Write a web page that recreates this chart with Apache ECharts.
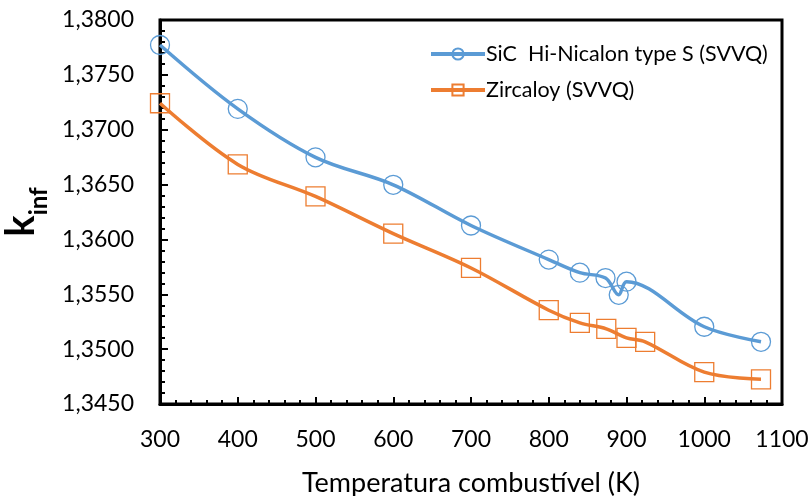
<!DOCTYPE html>
<html>
<head>
<meta charset="utf-8">
<script src="https://cdn.jsdelivr.net/npm/echarts@6/dist/echarts.min.js"></script>
<style>html,body{margin:0;padding:0;background:#fff}#c{width:812px;height:496px}</style>
</head>
<body>
<div id="c"></div>
<script>
const sicTemps = [300, 400, 500, 600, 700, 800, 840, 873, 890, 900, 1000, 1073];
const sicK = [1.37772, 1.37190, 1.36748, 1.36498, 1.36127, 1.35816, 1.35697, 1.35648, 1.35495, 1.35615, 1.35204, 1.35067];
const zrTemps = [300, 400, 500, 600, 700, 800, 840, 874, 900, 924, 1000, 1073];
const zrK = [1.37241, 1.36684, 1.36392, 1.36053, 1.35740, 1.35355, 1.35240, 1.35185, 1.35103, 1.35067, 1.34790, 1.34725];
const seriesNames = ['SiC  Hi-Nicalon type S (SVVQ)', 'Zircaloy (SVVQ)'];
const xTitle = 'Temperatura combustível (K)';

const blue = '#5B9BD5', orange = '#ED7D31';
const FONT = 'Lato';
const chart = echarts.init(document.getElementById('c'), null, {renderer: 'canvas'});
chart.setOption({
  animation: false,
  textStyle: {fontFamily: FONT},
  grid: {left: 160, right: 30, top: 20, bottom: 92, show: true, borderColor: '#000', borderWidth: 3,
    containLabel: false, outerBoundsMode: 'none'},
  legend: {
    left: 424, top: 38, orient: 'vertical', itemGap: 14, itemWidth: 54, itemHeight: 14,
    textStyle: {fontFamily: FONT, fontSize: 21.5, color: '#000', padding: [0, 0, 0, -4]},
    lineStyle: {width: 4},
    data: seriesNames
  },
  xAxis: {
    type: 'value', min: 300, max: 1100, interval: 100,
    name: xTitle, nameLocation: 'middle', nameGap: 66,
    nameTextStyle: {fontFamily: FONT, fontSize: 27, color: '#000'},
    axisLine: {show: true, lineStyle: {color: '#000', width: 3}},
    axisTick: {show: true, inside: true, length: 7, lineStyle: {color: '#000', width: 2}},
    minorTick: {show: true, splitNumber: 5, length: 4, lineStyle: {color: '#000', width: 2}},
    axisLabel: {fontFamily: FONT, fontSize: 23, color: '#000', margin: 24, formatter: v => String(v)},
    splitLine: {show: false}
  },
  yAxis: {
    type: 'value', min: 1.345, max: 1.38, interval: 0.005,
    name: '{k|k}{s|inf}', nameLocation: 'middle', nameGap: 99, nameRotate: 90,
    nameTextStyle: {
      rich: {
        k: {fontFamily: FONT, fontSize: 40, fontWeight: 'bold', color: '#000', lineHeight: 44, verticalAlign: 'bottom'},
        s: {fontFamily: FONT, fontSize: 24, fontWeight: 'bold', color: '#000', lineHeight: 44, verticalAlign: 'bottom', padding: [0, 0, -10, 0]}
      }
    },
    axisLine: {show: true, lineStyle: {color: '#000', width: 3}},
    axisTick: {show: true, inside: true, length: 8, lineStyle: {color: '#000', width: 2}},
    minorTick: {show: true, splitNumber: 5, length: 5, lineStyle: {color: '#000', width: 2}},
    axisLabel: {fontFamily: FONT, fontSize: 23, color: '#000', margin: 26,
      formatter: v => v.toFixed(4).replace('.', ',')},
    splitLine: {show: false}
  },
  series: [
    {
      name: seriesNames[0], type: 'line', smooth: 0.35,
      data: sicTemps.map((t, i) => [t, sicK[i]]),
      symbol: 'circle', symbolSize: 19,
      lineStyle: {color: blue, width: 3.5},
      itemStyle: {color: 'rgba(255,255,255,0)', borderColor: blue, borderWidth: 1.3}
    },
    {
      name: seriesNames[1], type: 'line', smooth: 0.35,
      data: zrTemps.map((t, i) => [t, zrK[i]]),
      symbol: 'rect', symbolSize: 19,
      lineStyle: {color: orange, width: 3.5},
      itemStyle: {color: 'rgba(255,255,255,0)', borderColor: orange, borderWidth: 1.3}
    }
  ]
});
</script>
</body>
</html>
